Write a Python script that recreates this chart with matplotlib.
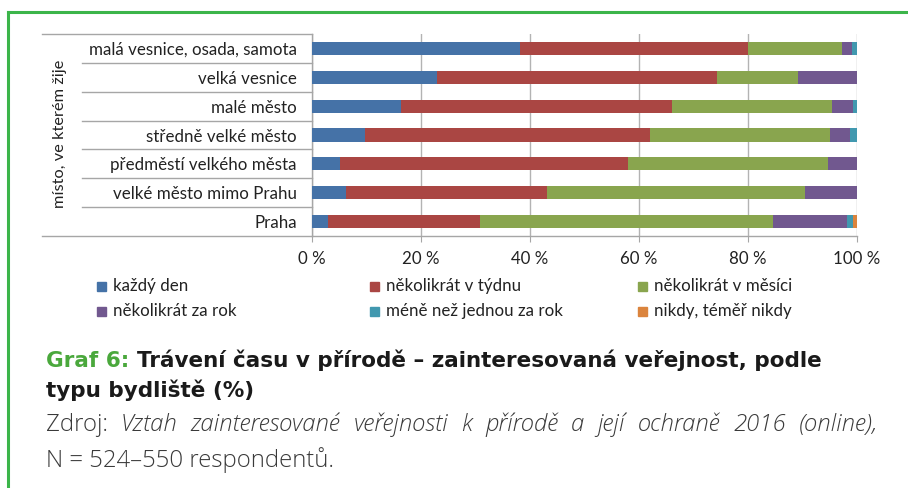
import matplotlib
matplotlib.use("Agg")
import matplotlib.pyplot as plt
import matplotlib.transforms as mtransforms
from matplotlib.patches import Rectangle
from matplotlib.lines import Line2D
import numpy as np

# categories from bottom (Praha) to top
categories = ["Praha", "velké město mimo Prahu", "předměstí velkého města",
              "středně velké město", "malé město", "velká vesnice",
              "malá vesnice, osada, samota"]
series_names = ["každý den", "několikrát v týdnu", "několikrát v měsíci",
                "několikrát za rok", "méně než jednou za rok",
                "nikdy, téměř nikdy"]
kazdy_den = [2.9, 6.3, 5.2, 9.7, 16.4, 22.9, 38.2]
tydne = [27.9, 36.8, 52.7, 52.4, 49.7, 51.4, 41.8]
mesicne = [53.8, 47.3, 36.8, 33.0, 29.3, 14.9, 17.3]
rocne = [13.6, 9.6, 5.3, 3.7, 3.9, 10.8, 1.8]
mene = [1.1, 0.0, 0.0, 1.2, 0.7, 0.0, 0.9]
nikdy = [0.7, 0.0, 0.0, 0.0, 0.0, 0.0, 0.0]
xticks = [0, 20, 40, 60, 80, 100]
xtick_labels = ["0 %", "20 %", "40 %", "60 %", "80 %", "100 %"]
group_label = "místo, ve kterém žije"
source_title = "Vztah zainteresované veřejnosti k přírodě a její ochraně 2016 (online),"

colors = ["#4572A7", "#AA4643", "#89A54E", "#71588F", "#4198AF", "#DB843D"]
W, H = 908, 488
FONT = "Lato"
FS = 12.2

fig = plt.figure(figsize=(W / 100, H / 100), dpi=100)
fig.patch.set_facecolor("white")


def fx(px):
    return px / W


def fy(py):
    return 1 - py / H


ax = fig.add_axes([fx(312), fy(236), fx(857) - fx(312), fy(34) - fy(236)])

data = [kazdy_den, tydne, mesicne, rocne, mene, nikdy]
y = np.arange(len(categories))
left = np.zeros(len(categories))
for vals, col, name in zip(data, colors, series_names):
    vals = np.array(vals)
    ax.barh(y, vals, left=left, height=0.46, color=col, label=name, zorder=3)
    left += vals

ax.set_xlim(0, 100)
ax.set_ylim(-0.5, len(categories) - 0.5)
ax.set_xticks(xticks)
ax.set_xticklabels(xtick_labels, fontfamily=FONT, fontsize=FS)
ax.set_yticks(y)
ax.set_yticklabels(categories, fontfamily=FONT, fontsize=FS)
ax.tick_params(axis="y", length=0, pad=11, colors="#222222")
ax.tick_params(axis="x", length=4, color="#a6a6a6", pad=7, labelcolor="#222222")
ax.grid(axis="x", color="#b3b3b3", linewidth=1.0, zorder=0)
for s in ["top", "right"]:
    ax.spines[s].set_visible(False)
for s in ["left", "bottom"]:
    ax.spines[s].set_color("#a6a6a6")
    ax.spines[s].set_linewidth(1.0)

# multi-level category separators: outer ones reach past the group label
blend = mtransforms.blended_transform_factory(ax.transAxes, ax.transData)
span = 857 - 312
for yb in np.arange(-0.5, len(categories), 1.0):
    start = 42 if yb in (-0.5, len(categories) - 0.5) else 82
    ax.add_line(Line2D([(start - 312) / span, 0], [yb, yb], transform=blend,
                       color="#a6a6a6", linewidth=1.0, clip_on=False))

fig.text(fx(60), fy(134), group_label, rotation=90, ha="center", va="center",
         fontfamily=FONT, fontsize=FS - 0.4, color="#222222")

# legend, 3 columns x 2 rows
leg_x = [101, 374, 642]
leg_y = [286, 311]
for i, (name, col) in enumerate(zip(series_names, colors)):
    cx = leg_x[i % 3]
    cy = leg_y[i // 3]
    fig.patches.append(Rectangle((fx(cx - 4.5), fy(cy + 4.5)), fx(9), 9 / H,
                                 transform=fig.transFigure, color=col))
    fig.text(fx(cx + 12), fy(cy), name, ha="left", va="center",
             fontfamily=FONT, fontsize=FS, color="#222222")

# green frame
fig.add_artist(Line2D([fx(8), fx(8)], [fy(12), 0], color="#3cb54a",
                      linewidth=2.2, transform=fig.transFigure))
fig.add_artist(Line2D([fx(8), 1], [fy(12), fy(12)], color="#3cb54a",
                      linewidth=2.2, transform=fig.transFigure))

renderer = fig.canvas.get_renderer()


def text_run(x_px, y_px, pieces, right_px=None):
    # pieces: (string, kwargs, gap_before); justified if right_px given
    texts = []
    for s, kw, gap in pieces:
        t = fig.text(0, fy(y_px), s, ha="left", va="baseline", **kw)
        w = t.get_window_extent(renderer=renderer).width
        texts.append((t, w, gap))
    n_gaps = sum(1 for _, _, g in texts if g)
    if right_px is not None and n_gaps:
        total = sum(w for _, w, _ in texts)
        space = (right_px - x_px - total) / n_gaps
    else:
        space = 5
    x = x_px
    for t, w, gap in texts:
        if gap:
            x += space
        t.set_x(fx(x))
        x += w


title_kw = dict(fontfamily="DejaVu Sans", fontsize=15.5, fontweight="bold")
text_run(46, 367, [("Graf 6: ", dict(color="#4aa83c", **title_kw), False),
                   ("Trávení času v přírodě – zainteresovaná veřejnost, podle",
                    dict(color="#1a1a1a", **title_kw), False)])
text_run(46, 397, [("typu bydliště (%)", dict(color="#1a1a1a", **title_kw), False)])

src_kw = dict(fontfamily="Open Sans", fontsize=17.2, fontweight="light",
              color="#3a3a3a")
ital_kw = dict(style="italic", **src_kw)
pieces = [("Zdroj:", src_kw, False)]
pieces += [(w, ital_kw, True) for w in source_title.split(" ")]
text_run(46, 431, pieces, right_px=878)
text_run(46, 467, [("N = 524–550 respondentů.", src_kw, False)])

fig.savefig("out.png", dpi=100, facecolor="white")
